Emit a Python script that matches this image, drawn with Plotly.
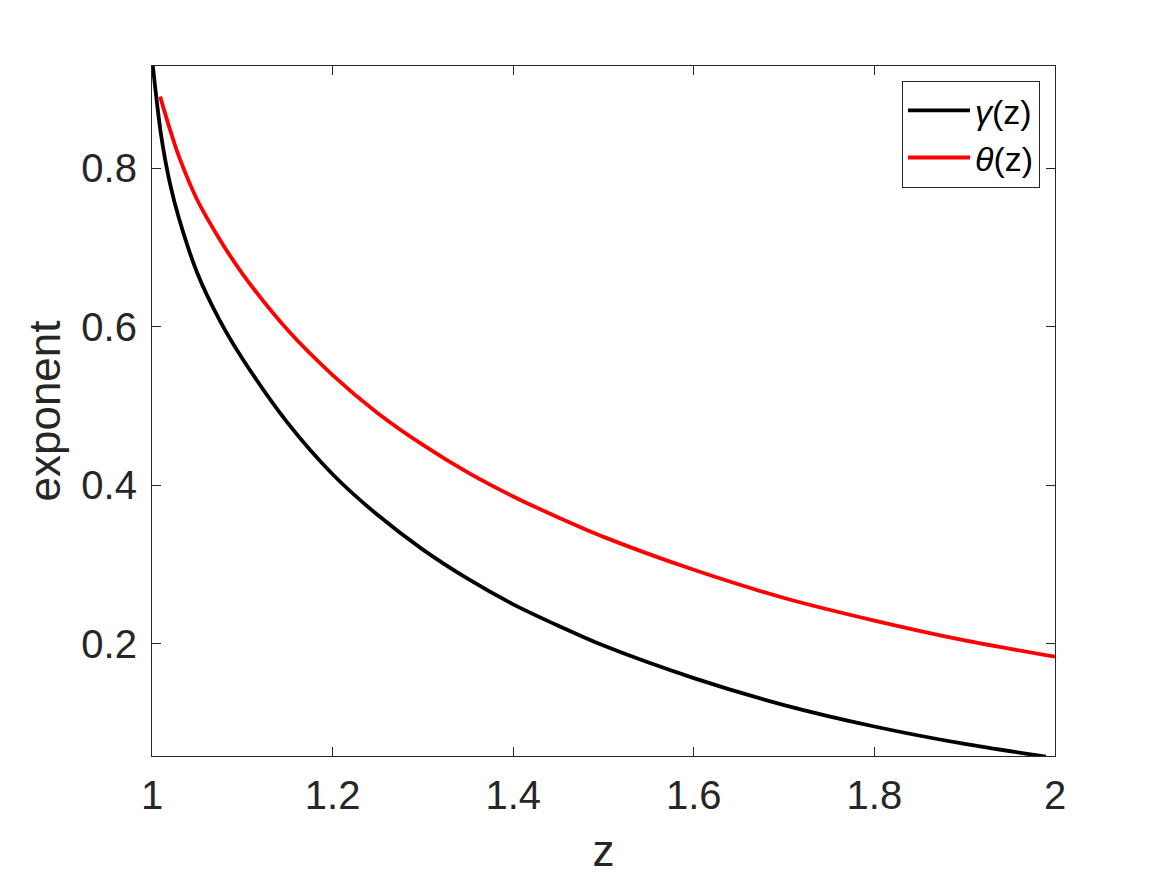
import plotly.graph_objects as go

# Data
gamma_z = [1.000, 1.010, 1.020, 1.030, 1.050, 1.075, 1.100, 1.150, 1.200, 1.250, 1.300, 1.350,
           1.400, 1.450, 1.500, 1.600, 1.700, 1.800, 1.900, 1.990]
gamma_v = [0.938, 0.842, 0.780, 0.736, 0.668, 0.608, 0.560, 0.479, 0.414, 0.3625, 0.319, 0.282,
           0.250, 0.223, 0.198, 0.157, 0.123, 0.096, 0.074, 0.058]

theta_z = [1.009, 1.020, 1.030, 1.050, 1.075, 1.100, 1.150, 1.200, 1.250, 1.300, 1.350, 1.400,
           1.450, 1.500, 1.600, 1.700, 1.800, 1.900, 2.000]
theta_v = [0.890, 0.848, 0.814, 0.760, 0.710, 0.667, 0.596, 0.539, 0.491, 0.451, 0.416, 0.386,
           0.3595, 0.335, 0.2935, 0.258, 0.2295, 0.2045, 0.184]

x_ticks = [1, 1.2, 1.4, 1.6, 1.8, 2]
x_tick_labels = ["1", "1.2", "1.4", "1.6", "1.8", "2"]
y_ticks = [0.2, 0.4, 0.6, 0.8]
y_tick_labels = ["0.2", "0.4", "0.6", "0.8"]

FONT = "Liberation Sans, Arial, Helvetica, sans-serif"
AX = "#262626"

fig = go.Figure()
fig.add_trace(go.Scatter(x=gamma_z, y=gamma_v, mode="lines", name="<i>γ</i>(z)",
                         line=dict(color="black", width=3.8, shape="spline", smoothing=0.8)))
fig.add_trace(go.Scatter(x=theta_z, y=theta_v, mode="lines", name="<i>θ</i>(z)",
                         line=dict(color="#ff0000", width=3.8, shape="spline", smoothing=0.8)))

axis_common = dict(showline=True, linecolor=AX, linewidth=1.2, mirror="allticks",
                   ticks="inside", ticklen=9, tickwidth=1.2, tickcolor=AX,
                   showgrid=False, zeroline=False,
                   tickfont=dict(family=FONT, size=40, color=AX))

fig.update_xaxes(range=[1, 2], tickvals=x_ticks, ticktext=x_tick_labels,
                 ticklabelstandoff=4,
                 title=dict(text="z", font=dict(family=FONT, size=44, color=AX), standoff=22),
                 **axis_common)
fig.update_yaxes(range=[0.0588, 0.9286], tickvals=y_ticks, ticktext=y_tick_labels,
                 ticklabelstandoff=6,
                 title=dict(text="exponent", font=dict(family=FONT, size=44, color=AX), standoff=6),
                 **axis_common)

# page body has an 8px margin, so the figure is offset by 8px
fig.update_layout(
    width=1159, height=867,
    margin=dict(l=144, r=112, t=58, b=119, autoexpand=False),
    paper_bgcolor="white", plot_bgcolor="white",
    legend=dict(x=0.9834, y=0.9787, xanchor="right", yanchor="top",
                bgcolor="white", bordercolor=AX, borderwidth=1,
                font=dict(family=FONT, size=34, color="black"),
                itemwidth=62, tracegroupgap=0),
    showlegend=True,
)

fig.write_html("out.html")
